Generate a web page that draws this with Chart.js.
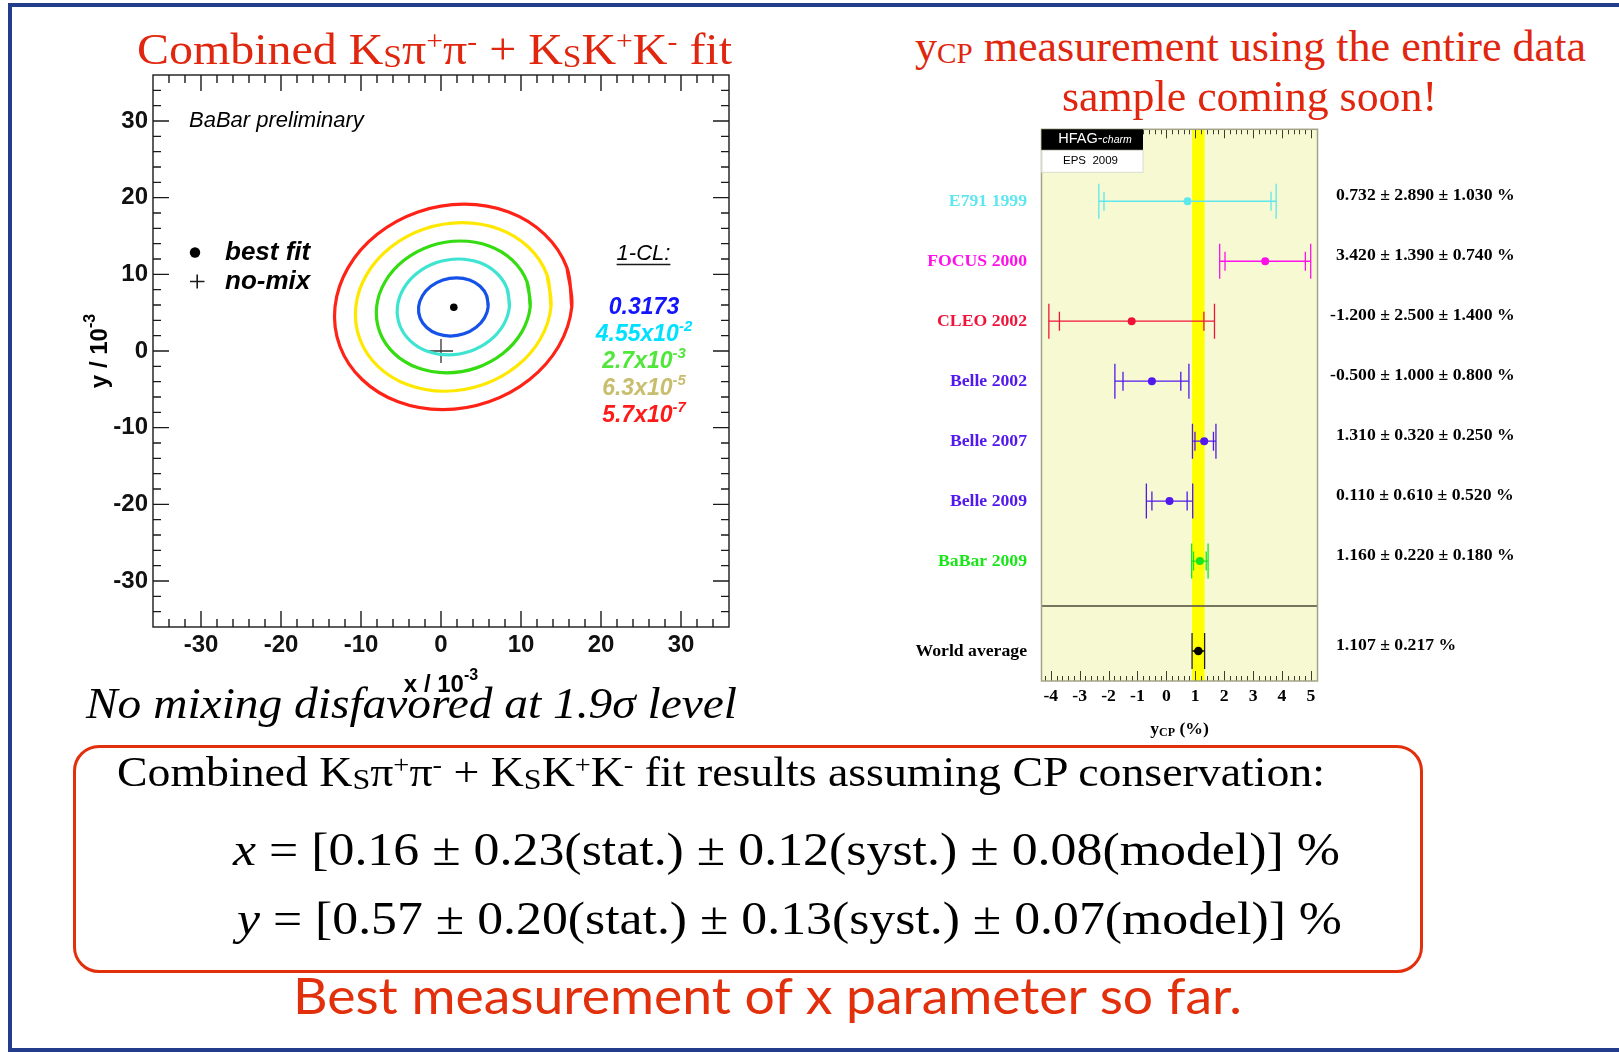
<!DOCTYPE html>
<html>
<head>
<meta charset="utf-8">
<title>D0 mixing: combined KSππ + KSKK fit and yCP summary</title>
<script src="https://cdn.jsdelivr.net/npm/chart.js@4.4.1/dist/chart.umd.min.js"></script>
<style>
  html, body { margin: 0; padding: 0; background: #fff; }
  #slide { position: relative; width: 1619px; height: 1052px; overflow: hidden; background: #fff; }
  .frame { position: absolute; background: #233c8c; }
  canvas { position: absolute; }
  .txt { position: absolute; white-space: nowrap; line-height: 1; transform-origin: 0 50%; }
  .serif { font-family: "Liberation Serif", "Times New Roman", serif; }
  .red { color: #e0260e; }
  .ks { font-size: 0.7em; position: relative; top: 0.1em; }
  .sp { font-size: 0.62em; position: relative; top: -0.5em; }
  .cp { font-size: 0.66em; position: relative; top: 0.08em; }
  .math { font-family: "Liberation Serif", "DejaVu Serif", serif; }
  .math i { font-style: italic; }
  #box { position: absolute; left: 73px; top: 745px; width: 1350px; height: 228px;
         border: 3.5px solid #e2300c; border-radius: 26px; box-sizing: border-box; }
</style>
</head>
<body>
<div id="slide">
  <div class="frame" style="left:8px;top:3px;width:1611px;height:4px"></div>
  <div class="frame" style="left:8px;top:3px;width:4px;height:1049px"></div>
  <div class="frame" style="left:8px;top:1048px;width:1611px;height:4px"></div>

  <canvas id="mixChart" width="800" height="740" style="left:0;top:0"></canvas>
  <canvas id="ycpChart" width="759" height="640" style="left:860px;top:110px"></canvas>

  <div id="box"></div>

  <div id="t1" class="txt serif red" style="font-size:44px">Combined K<span class="ks">S</span>π<span class="sp">+</span>π<span class="sp">-</span> + K<span class="ks">S</span>K<span class="sp">+</span>K<span class="sp">-</span> fit</div>
  <div id="t2a" class="txt serif red" style="font-size:44px">y<span class="cp">CP</span> measurement using the entire data</div>
  <div id="t2b" class="txt serif red" style="font-size:44px">sample coming soon!</div>
  <div id="t3" class="txt serif" style="font-size:45px;font-style:italic;color:#000">No mixing disfavored at 1.9σ level</div>
  <div id="t4" class="txt serif" style="font-size:42px;color:#000">Combined K<span class="ks">S</span>π<span class="sp">+</span>π<span class="sp">-</span> + K<span class="ks">S</span>K<span class="sp">+</span>K<span class="sp">-</span> fit results assuming CP conservation:</div>
  <div id="t5" class="txt math" style="font-size:46px;color:#000"><i>x</i> = [0.16 ± 0.23(stat.) ± 0.12(syst.) ± 0.08(model)] %</div>
  <div id="t6" class="txt math" style="font-size:46px;color:#000"><i>y</i> = [0.57 ± 0.20(stat.) ± 0.13(syst.) ± 0.07(model)] %</div>
  <div id="t7" class="txt" style="font-size:50px;font-family:Lato,'Open Sans',sans-serif;color:#e2300c">Best measurement of x parameter so far.</div>
</div>

<script>
// ---------- Mixing-parameter fit (x, y in units of 1e-3) ----------
const bestFit = [1.6, 5.7];
const noMixing = [0, 0];

// 1-CL contours, points going round each curve
const contour0317 = [[5.90,5.75],[5.71,7.21],[4.89,8.44],[3.57,9.26],[1.93,9.55],[0.24,9.26],[-1.26,8.44],[-2.32,7.21],[-2.80,5.75],[-2.61,4.29],[-1.79,3.06],[-0.47,2.24],[1.17,1.95],[2.87,2.24],[4.36,3.06],[5.42,4.29]];
const contour455e2 = [[8.55,5.75],[8.26,8.14],[6.94,10.17],[4.81,11.53],[2.18,12.00],[-0.55,11.53],[-2.96,10.17],[-4.68,8.14],[-5.45,5.75],[-5.16,3.36],[-3.84,1.33],[-1.71,-0.03],[0.93,-0.50],[3.65,-0.03],[6.06,1.33],[7.78,3.36]];
const contour27e3 = [[11.15,5.75],[10.75,9.04],[8.95,11.83],[6.02,13.70],[2.41,14.35],[-1.33,13.70],[-4.63,11.83],[-6.99,9.04],[-8.05,5.75],[-7.65,2.46],[-5.85,-0.33],[-2.92,-2.20],[0.69,-2.85],[4.43,-2.20],[7.73,-0.33],[10.09,2.46]];
const contour63e5 = [[13.75,5.75],[13.24,9.96],[10.95,13.53],[7.24,15.91],[2.65,16.75],[-2.11,15.91],[-6.30,13.53],[-9.30,9.96],[-10.65,5.75],[-10.14,1.54],[-7.85,-2.03],[-4.14,-4.41],[0.45,-5.25],[5.21,-4.41],[9.40,-2.03],[12.40,1.54]];
const contour57e7 = [[16.35,5.75],[15.74,10.88],[12.96,15.22],[8.46,18.13],[2.89,19.15],[-2.88,18.13],[-7.97,15.22],[-11.61,10.88],[-13.25,5.75],[-12.64,0.62],[-9.86,-3.72],[-5.36,-6.63],[0.21,-7.65],[5.98,-6.63],[11.07,-3.72],[14.71,0.62]];

const contourSets = [contour0317, contour455e2, contour27e3, contour63e5, contour57e7];
const contourColors = ['#1652e8', '#3ee4d2', '#36dc12', '#ffe800', '#ff2216'];
const clMantissa = ['0.3173', '4.55x10', '2.7x10', '6.3x10', '5.7x10'];
const clExponent = ['', '-2', '-3', '-5', '-7'];
const clTextColors = ['#1414ff', '#00e0ff', '#52e63c', '#c8be6e', '#ff1a1a'];

// ---------- yCP measurements (%) ----------
const expNames   = ['E791 1999', 'FOCUS 2000', 'CLEO 2002', 'Belle 2002', 'Belle 2007', 'Belle 2009', 'BaBar 2009'];
const ycpCentral = [0.732, 3.420, -1.200, -0.500, 1.310, 0.110, 1.160];
const ycpStat    = [2.890, 1.390, 2.500, 1.000, 0.320, 0.610, 0.220];
const ycpSyst    = [1.030, 0.740, 1.400, 0.800, 0.250, 0.520, 0.180];
const expColors  = ['#5ee8ee', '#ff10ea', '#f0143a', '#5218ee', '#5218ee', '#5218ee', '#18e618'];
const worldAvg = 1.107;
const worldErr = 0.217;

// ---------- helpers ----------
function drawRuns(ctx, parts, x, y, align) {
  let w = 0;
  parts.forEach(p => { ctx.font = p[1]; w += ctx.measureText(p[0]).width; });
  let cx = align === 'center' ? x - w / 2 : (align === 'right' ? x - w : x);
  const left = cx;
  parts.forEach(p => {
    ctx.font = p[1];
    ctx.fillText(p[0], cx, y + (p[2] || 0));
    cx += ctx.measureText(p[0]).width;
  });
  return { left, width: w };
}

function closedLoop(pts) {
  return pts.concat([pts[0], pts[1]]).map(([x, y]) => ({ x, y }));
}

// ---------- left panel: contour plot ----------
const SANS = '"Liberation Sans", Arial, Helvetica, sans-serif';
const SERIF = '"Liberation Serif", "Times New Roman", serif';

const rootFrame = {
  id: 'rootFrame',
  afterDatasetsDraw(chart) {
    const { ctx, chartArea: a, scales: { x, y } } = chart;
    ctx.save();
    ctx.strokeStyle = '#1a1a1a';
    ctx.lineWidth = 1.4;
    ctx.strokeRect(a.left, a.top, a.right - a.left, a.bottom - a.top);
    ctx.beginPath();
    for (let v = -34; v <= 34; v += 2) {
      const L = v % 10 === 0 ? 16 : 8;
      const px = x.getPixelForValue(v);
      ctx.moveTo(px, a.bottom); ctx.lineTo(px, a.bottom - L);
      ctx.moveTo(px, a.top); ctx.lineTo(px, a.top + L);
      const py = y.getPixelForValue(v);
      ctx.moveTo(a.left, py); ctx.lineTo(a.left + L, py);
      ctx.moveTo(a.right, py); ctx.lineTo(a.right - L, py);
    }
    ctx.stroke();

    ctx.fillStyle = '#000';
    ctx.textBaseline = 'middle';
    // header
    ctx.font = 'italic 22px ' + SANS;
    ctx.textAlign = 'left';
    ctx.fillText('BaBar preliminary', 189, 121);

    // legend
    ctx.beginPath();
    ctx.arc(195, 252.5, 5.2, 0, Math.PI * 2);
    ctx.fill();
    ctx.lineWidth = 1.6;
    ctx.beginPath();
    ctx.moveTo(190, 281.5); ctx.lineTo(204.5, 281.5);
    ctx.moveTo(197.2, 274.5); ctx.lineTo(197.2, 288.5);
    ctx.stroke();
    ctx.font = 'bold italic 26px ' + SANS;
    ctx.fillText('best fit', 225, 253);
    ctx.fillText('no-mix', 225, 282);

    // contour level key
    ctx.font = 'italic 22px ' + SANS;
    ctx.textAlign = 'center';
    ctx.fillText('1-CL:', 643.5, 253.5);
    const w = ctx.measureText('1-CL:').width;
    ctx.lineWidth = 1.6;
    ctx.beginPath();
    ctx.moveTo(643.5 - w / 2, 264.5); ctx.lineTo(643.5 + w / 2, 264.5);
    ctx.stroke();
    ctx.textAlign = 'left';
    clMantissa.forEach((m, i) => {
      ctx.fillStyle = clTextColors[i];
      const parts = [[m, 'bold italic 23px ' + SANS, 0]];
      if (clExponent[i]) parts.push([clExponent[i], 'bold italic 15px ' + SANS, -8]);
      drawRuns(ctx, parts, 644, 308 + 27 * i, 'center');
    });

    // axis titles
    ctx.fillStyle = '#000';
    drawRuns(ctx, [['x / 10', 'bold 24px ' + SANS, 0], ['-3', 'bold 16px ' + SANS, -9]], 441, 685, 'center');
    ctx.save();
    ctx.translate(100, 351);
    ctx.rotate(-Math.PI / 2);
    drawRuns(ctx, [['y / 10', 'bold 24px ' + SANS, 0], ['-3', 'bold 16px ' + SANS, -9]], 0, 0, 'center');
    ctx.restore();
    ctx.restore();
  }
};

const mixDatasets = contourSets.map((pts, i) => ({
  data: closedLoop(pts),
  showLine: true,
  borderColor: contourColors[i],
  borderWidth: 3.2,
  pointRadius: 0,
  tension: 0.34,
  fill: false
}));
mixDatasets.push({
  data: [{ x: bestFit[0], y: bestFit[1] }],
  pointStyle: 'circle', pointRadius: 3.8, backgroundColor: '#000', borderWidth: 0
});
mixDatasets.push({
  data: [{ x: noMixing[0], y: noMixing[1] }],
  pointStyle: 'cross', pointRadius: 12, borderColor: '#333', pointBorderWidth: 1.3
});

new Chart(document.getElementById('mixChart'), {
  type: 'scatter',
  data: { datasets: mixDatasets },
  options: {
    responsive: false,
    animation: false,
    devicePixelRatio: 1,
    events: [],
    layout: { padding: { left: 0, top: 75, right: 71, bottom: 0 } },
    plugins: { legend: { display: false }, tooltip: { enabled: false } },
    scales: {
      x: {
        type: 'linear', min: -36, max: 36,
        ticks: { stepSize: 10, includeBounds: false, maxRotation: 0, padding: 4,
                 color: '#111', font: { family: SANS, weight: 'bold', size: 24 } },
        grid: { display: false, drawTicks: false },
        border: { display: false },
        afterFit: s => { s.height = 113; }
      },
      y: {
        type: 'linear', min: -36, max: 36,
        ticks: { stepSize: 10, includeBounds: false, padding: 5,
                 color: '#111', font: { family: SANS, weight: 'bold', size: 24 } },
        grid: { display: false, drawTicks: false },
        border: { display: false },
        afterFit: s => { s.width = 153; }
      }
    }
  },
  plugins: [rootFrame]
});

// ---------- right panel: yCP comparison ----------
const avgRow = expNames.length + 0.5;        // world average row
const sepRow = expNames.length - 0.25;       // divider above it

const hfagPanel = {
  id: 'hfagPanel',
  beforeDatasetsDraw(chart) {
    const { ctx, chartArea: a, scales: { x, y } } = chart;
    ctx.save();
    ctx.fillStyle = '#f7f9d2';
    ctx.fillRect(a.left, a.top, a.right - a.left, a.bottom - a.top);
    const b0 = x.getPixelForValue(worldAvg - worldErr);
    const b1 = x.getPixelForValue(worldAvg + worldErr);
    ctx.fillStyle = '#ffff00';
    ctx.fillRect(b0, a.top, b1 - b0, a.bottom - a.top);
    const ys = y.getPixelForValue(sepRow);
    ctx.strokeStyle = 'rgba(95,95,75,0.85)';
    ctx.lineWidth = 2;
    ctx.beginPath(); ctx.moveTo(a.left, ys); ctx.lineTo(a.right, ys); ctx.stroke();
    ctx.restore();
  },
  afterDatasetsDraw(chart) {
    const { ctx, chartArea: a, scales: { x, y } } = chart;
    ctx.save();
    // ticks
    ctx.strokeStyle = '#3c3c30';
    ctx.lineWidth = 1;
    ctx.beginPath();
    for (let k = -21; k <= 26; k++) {
      const px = Math.round(x.getPixelForValue(k / 5)) + 0.5;
      const major = k % 5 === 0;
      ctx.moveTo(px, a.bottom); ctx.lineTo(px, a.bottom - (major ? 10 : 5));
      ctx.moveTo(px, a.top); ctx.lineTo(px, a.top + (major ? 9 : 5));
    }
    ctx.stroke();
    // frame
    ctx.strokeStyle = '#a2a286';
    ctx.lineWidth = 1.5;
    ctx.strokeRect(a.left, a.top, a.right - a.left, a.bottom - a.top);

    // HFAG stamp
    ctx.fillStyle = '#000';
    ctx.fillRect(a.left, a.top, 101.5, 21);
    ctx.fillStyle = '#fff';
    ctx.fillRect(a.left, a.top + 21, 101.5, 22);
    ctx.strokeStyle = '#dcdcd0';
    ctx.lineWidth = 1;
    ctx.strokeRect(a.left + 0.5, a.top + 21, 101, 22);
    ctx.textBaseline = 'middle';
    ctx.fillStyle = '#fff';
    drawRuns(ctx, [['HFAG-', '14.5px ' + SANS, 0], ['charm', 'italic 10.5px ' + SANS, 1]], a.left + 53.5, a.top + 9.5, 'center');
    ctx.fillStyle = '#000';
    ctx.font = '11.5px ' + SANS;
    ctx.textAlign = 'center';
    ctx.fillText('EPS  2009', a.left + 49, a.top + 32);

    // row labels and quoted values
    const labX = a.left - 14.5;
    const valX = a.right + 18.5;
    const font = 'bold 17.7px ' + SERIF;
    ctx.font = font;
    expNames.forEach((name, i) => {
      const py = y.getPixelForValue(i);
      ctx.fillStyle = expColors[i];
      ctx.textAlign = 'right';
      ctx.fillText(name, labX, py);
      ctx.fillStyle = '#000';
      ctx.textAlign = 'left';
      const c = ycpCentral[i];
      const txt = c.toFixed(3) + ' ± ' + ycpStat[i].toFixed(3) + ' ± ' + ycpSyst[i].toFixed(3) + ' %';
      const shift = c < 0 ? ctx.measureText('-').width : 0;
      ctx.fillText(txt, valX - shift, py - 5.5);
    });
    const pa = y.getPixelForValue(avgRow);
    ctx.fillStyle = '#000';
    ctx.textAlign = 'right';
    ctx.fillText('World average', labX, pa);
    ctx.textAlign = 'left';
    ctx.fillText(worldAvg.toFixed(3) + ' ± ' + worldErr.toFixed(3) + ' %', valX, pa - 5.5);

    // axis title
    drawRuns(ctx, [['y', 'bold 17.7px ' + SERIF, 0], ['CP', 'bold 12px ' + SERIF, 4], [' (%)', 'bold 17.7px ' + SERIF, 0]],
             a.left + 138, a.bottom + 48, 'center');
    ctx.restore();
  }
};

const ycpDatasets = [];
expNames.forEach((name, i) => {
  const c = ycpCentral[i];
  const tot = Math.sqrt(ycpStat[i] ** 2 + ycpSyst[i] ** 2);
  const col = expColors[i];
  ycpDatasets.push({
    data: [{ x: c - tot, y: i }, { x: c + tot, y: i }],
    showLine: true, borderColor: col, borderWidth: 1.3,
    pointStyle: 'line', pointRotation: 90, pointRadius: 17.5,
    pointBorderColor: col, pointBorderWidth: 1.3
  });
  ycpDatasets.push({
    data: [{ x: c - ycpStat[i], y: i }, { x: c + ycpStat[i], y: i }],
    showLine: false,
    pointStyle: 'line', pointRotation: 90, pointRadius: 9.5,
    pointBorderColor: col, pointBorderWidth: 1.3
  });
  ycpDatasets.push({
    data: [{ x: c, y: i }],
    pointStyle: 'circle', pointRadius: 4, backgroundColor: col, borderWidth: 0
  });
});
ycpDatasets.push({
  data: [{ x: worldAvg - worldErr, y: avgRow }, { x: worldAvg + worldErr, y: avgRow }],
  showLine: true, borderColor: '#000', borderWidth: 1.3,
  pointStyle: 'line', pointRotation: 90, pointRadius: 18,
  pointBorderColor: '#222', pointBorderWidth: 1.3
});
ycpDatasets.push({
  data: [{ x: worldAvg, y: avgRow }],
  pointStyle: 'circle', pointRadius: 4.3, backgroundColor: '#000', borderWidth: 0
});

new Chart(document.getElementById('ycpChart'), {
  type: 'scatter',
  data: { datasets: ycpDatasets },
  options: {
    responsive: false,
    animation: false,
    devicePixelRatio: 1,
    events: [],
    layout: { padding: { left: 181.5, top: 19, right: 301.5, bottom: 0 } },
    plugins: { legend: { display: false }, tooltip: { enabled: false } },
    scales: {
      x: {
        type: 'linear', min: -4.32, max: 5.23,
        ticks: { stepSize: 1, includeBounds: false, maxRotation: 0, padding: 5,
                 color: '#000', font: { family: SERIF, weight: 'bold', size: 17.7 } },
        grid: { display: false, drawTicks: false },
        border: { display: false },
        afterFit: s => { s.height = 69; }
      },
      y: {
        type: 'linear', min: -1.2, max: 8.0, reverse: true, display: false
      }
    }
  },
  plugins: [hfagPanel]
});

// ---------- slide text placement ----------
function place(id, left, right, cy) {
  const el = document.getElementById(id);
  const fs = parseFloat(getComputedStyle(el).fontSize);
  el.style.left = left + 'px';
  el.style.top = (cy - fs / 2) + 'px';
  const w = el.getBoundingClientRect().width;
  el.style.transform = 'scaleX(' + ((right - left) / w) + ')';
}
place('t1', 137, 732, 50);
place('t2a', 915, 1586, 47);
place('t2b', 1062, 1437, 97);
place('t3', 86, 737, 703);
place('t4', 117, 1325, 772);
place('t5', 233, 1340, 850);
place('t6', 237, 1342, 919);
place('t7', 293, 1242, 995);
</script>
</body>
</html>
